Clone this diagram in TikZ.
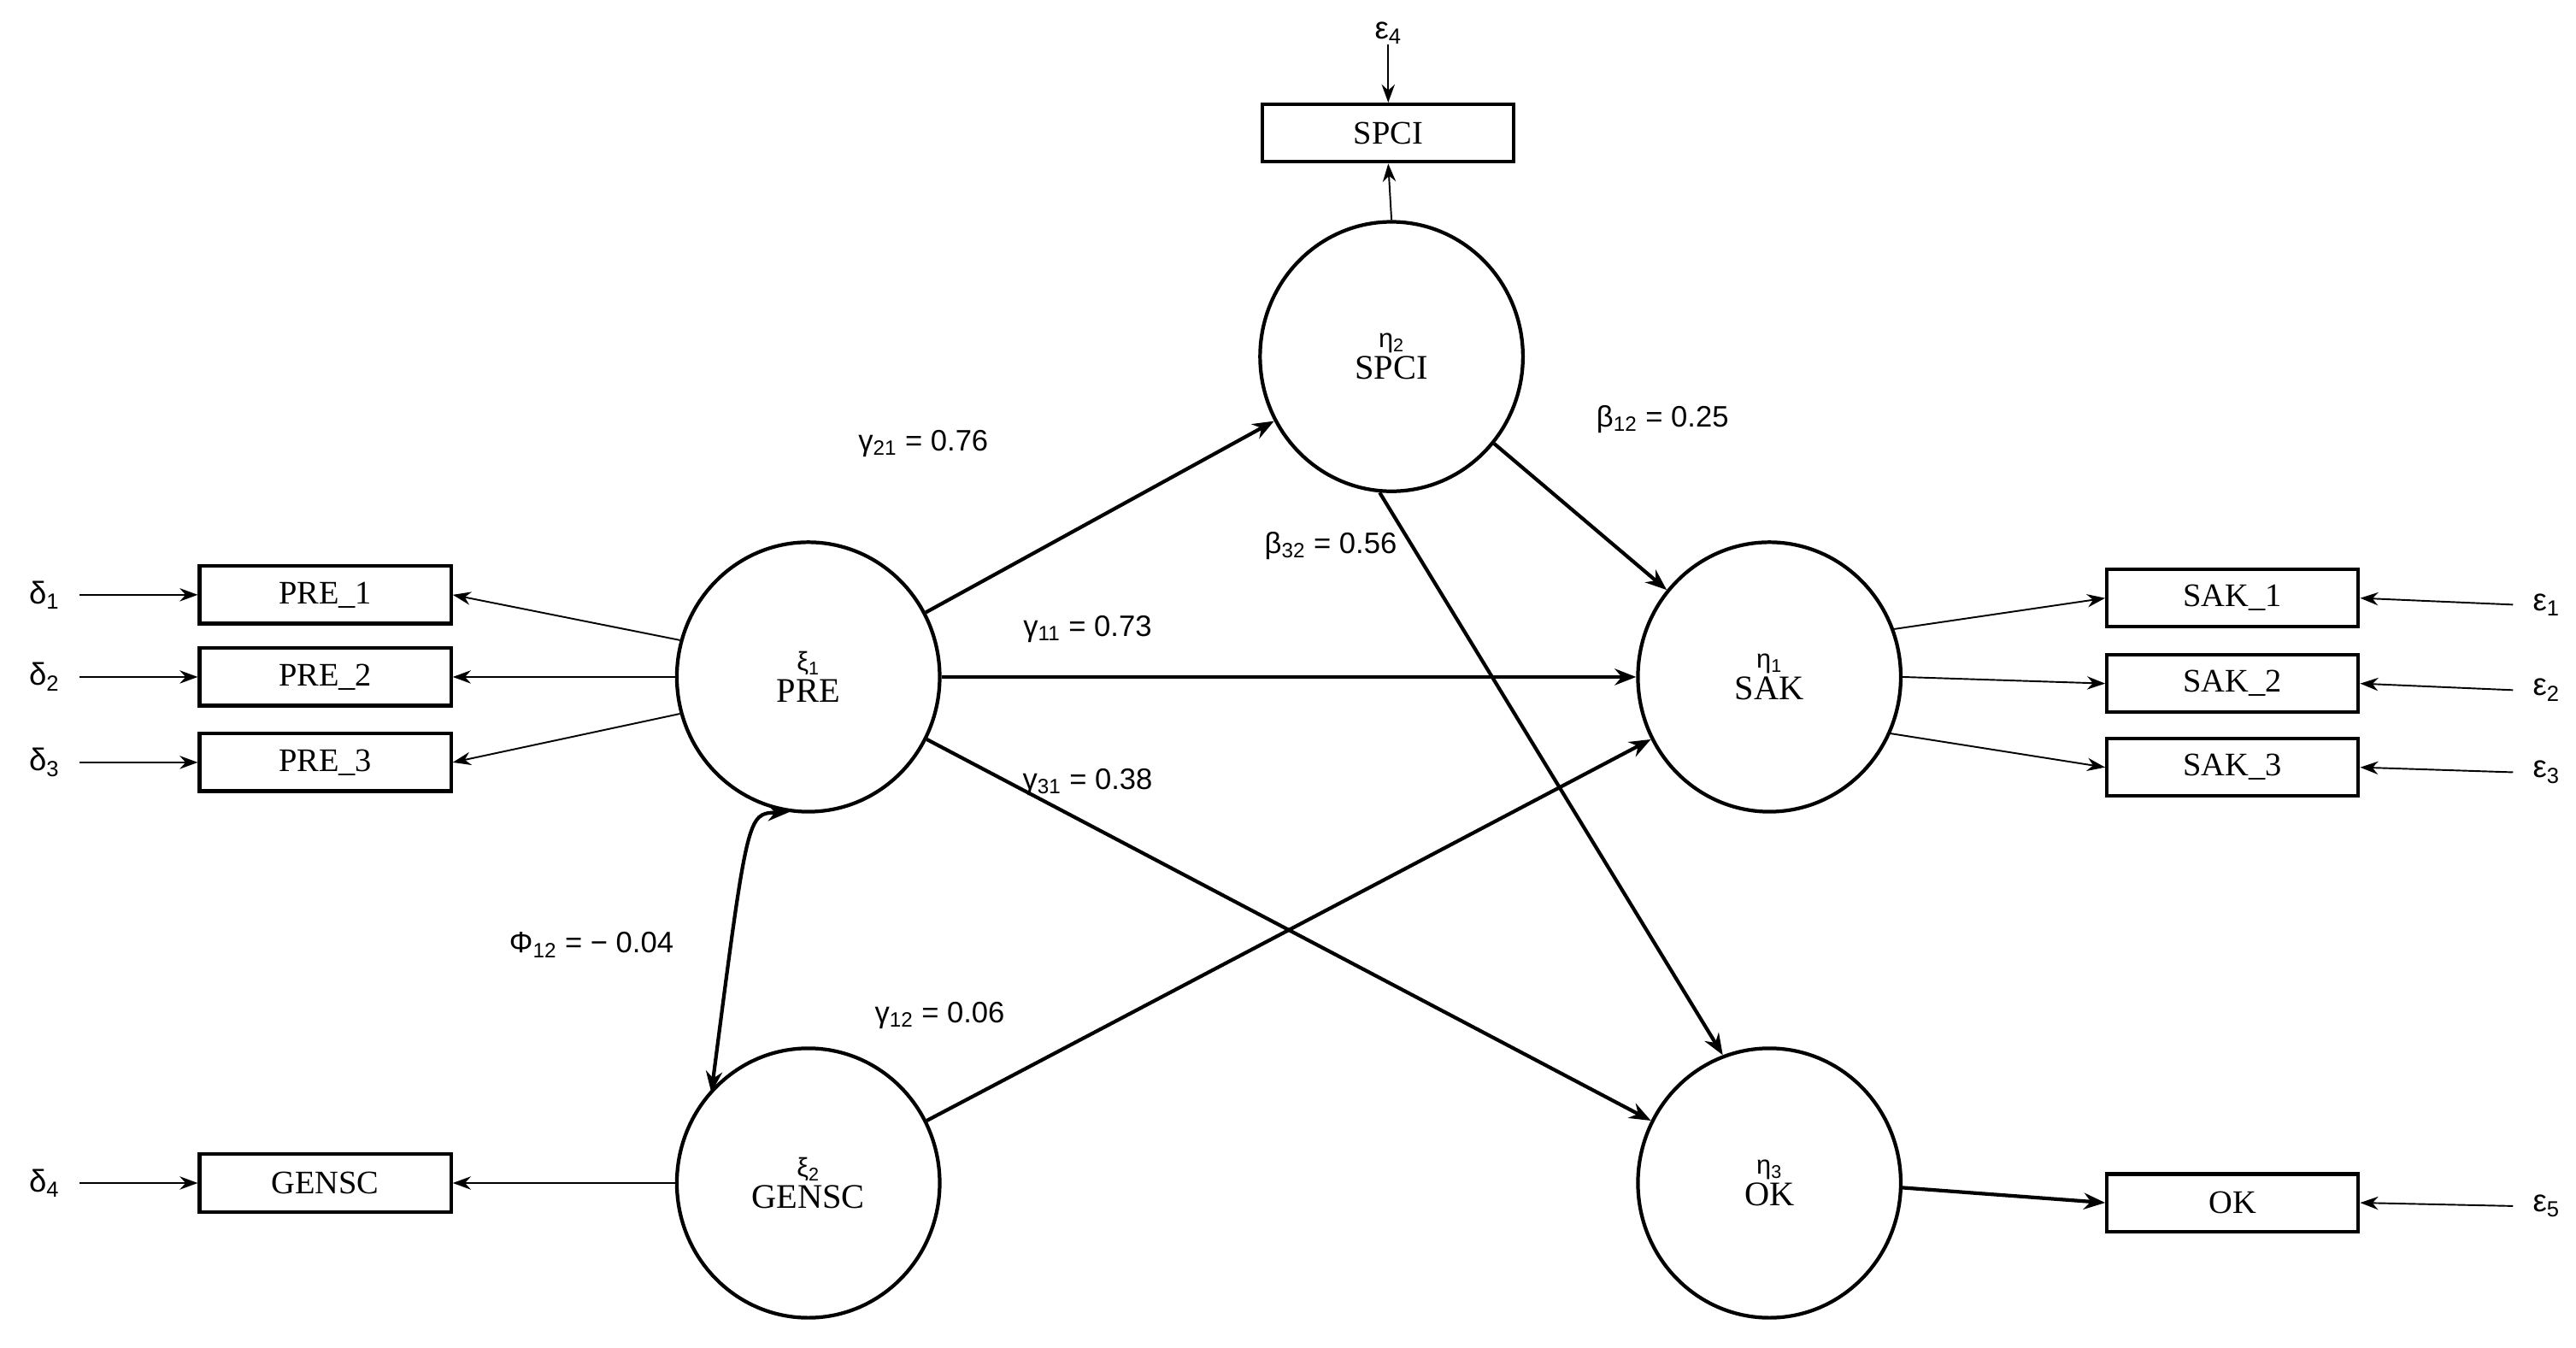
\documentclass[tikz,border=0pt]{standalone}
\usepackage{fontspec}
\setmainfont{Liberation Serif}
\newfontfamily\lab{Liberation Sans}
\usetikzlibrary{arrows.meta,shapes.geometric}
\newcommand{\gk}[2]{{\lab\fontsize{16}{16}\selectfont #1\textsubscript{#2}}}
\begin{document}
\begin{tikzpicture}[x=1pt,y=-1pt,
  lat/.style={draw,line width=2.2pt,ellipse,minimum width=160pt,minimum height=164pt,align=center,font=\fontsize{21}{21}\selectfont,inner sep=0pt},
  obs/.style={draw,line width=2.2pt,minimum width=153pt,minimum height=35pt,font=\fontsize{20}{20}\selectfont,inner sep=0pt},
  err/.style={font=\lab\fontsize{19}{19}\selectfont,inner sep=0pt},
  lbl/.style={font=\lab\fontsize{18}{18}\selectfont,inner sep=0pt},
  thin/.style={-{Stealth[length=11pt,width=8pt]},line width=1pt},
  thick/.style={-{Stealth[length=13pt,width=10pt]},line width=2.2pt}]
\useasboundingbox (0,0) rectangle (1568,820);
\node[lat] (pre) at (492,412) {\gk{ξ}{1}\\[-2pt]PRE};
\node[lat] (spci) at (847,217) {\gk{η}{2}\\[-2pt]SPCI};
\node[lat] (sak) at (1077,412) {\gk{η}{1}\\[-2pt]SAK};
\node[lat] (gen) at (492,720) {\gk{ξ}{2}\\[-2pt]GENSC};
\node[lat] (ok) at (1077,720) {\gk{η}{3}\\[-2pt]OK};
\node[obs] (p1) at (198,362) {PRE\_1};
\node[obs] (p2) at (198,412) {PRE\_2};
\node[obs] (p3) at (198,464) {PRE\_3};
\node[obs] (g) at (198,720) {GENSC};
\node[obs] (s1) at (1359,364) {SAK\_1};
\node[obs] (s2) at (1359,416) {SAK\_2};
\node[obs] (s3) at (1359,467) {SAK\_3};
\node[obs] (o) at (1359,732) {OK};
\node[obs] (sp) at (845,81) {SPCI};
\node[err] (d1) at (27,362) {δ\textsubscript{1}};
\node[err] (d2) at (27,412) {δ\textsubscript{2}};
\node[err] (d3) at (27,464) {δ\textsubscript{3}};
\node[err] (d4) at (27,720) {δ\textsubscript{4}};
\node[err] (e1) at (1550,368) {ε\textsubscript{1}};
\node[err] (e2) at (1550,420) {ε\textsubscript{2}};
\node[err] (e3) at (1550,470) {ε\textsubscript{3}};
\node[err] (e5) at (1550,734) {ε\textsubscript{5}};
\node[err] (e4) at (845,20) {ε\textsubscript{4}};
\foreach \a/\b in {d1/p1,d2/p2,d3/p3,d4/g}{\draw[thin] ([xshift=12pt]\a.east) -- (\b.west);}
\foreach \a/\b in {e1/s1,e2/s2,e3/s3,e5/o}{\draw[thin] ([xshift=-12pt]\a.west) -- (\b.east);}
\draw[thin] (e4.south) -- (sp.north);
\draw[thin] (spci.north) -- (sp.south);
\draw[thin] (pre.164) -- (p1.east);
\draw[thin] (pre.180) -- (p2.east);
\draw[thin] (pre.196) -- (p3.east);
\draw[thin] (gen.180) -- (g.east);
\draw[thin] (sak.21) -- (s1.west);
\draw[thin] (sak.0) -- (s2.west);
\draw[thin] (sak.-25) -- (s3.west);
\draw[thick] (ok.-2) -- (o.west);
\draw[thick] (pre) -- (spci);
\draw[thick] (pre) -- (sak);
\draw[thick] (pre) -- (ok);
\draw[thick] (spci) -- (sak);
\draw[thick] (spci.-95) -- (ok.110);
\draw[thick] (gen) -- (sak);
\draw[{Stealth[length=13pt,width=10pt]}-{Stealth[length=13pt,width=10pt]},line width=2.2pt] (pre.-98) .. controls (455,495) .. (433,665);
\node[lbl] (l1) at (562,270) {γ\textsubscript{21} = 0.76};
\node[lbl] (l2) at (662,383) {γ\textsubscript{11} = 0.73};
\node[lbl] (l3) at (662,476) {γ\textsubscript{31} = 0.38};
\node[lbl] (l4) at (1012,255) {β\textsubscript{12} = 0.25};
\node[lbl] (l5) at (810,332) {β\textsubscript{32} = 0.56};
\node[lbl] (l6) at (360,575) {Φ\textsubscript{12} = − 0.04};
\node[lbl] (l7) at (572,618) {γ\textsubscript{12} = 0.06};
\end{tikzpicture}
\end{document}
